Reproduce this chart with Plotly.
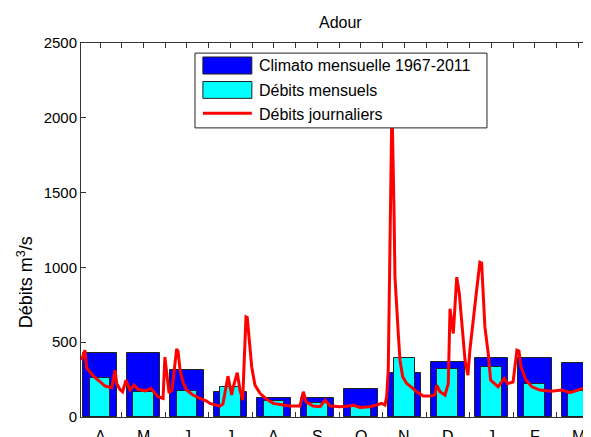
import plotly.graph_objects as go

# ---- data ----
mois = ["A", "M", "J", "J", "A", "S", "O", "N", "D", "J", "F", "M"]
climato_mensuelle = [425, 431, 312, 166, 124, 124, 189, 296, 371, 396, 396, 364]
debits_mensuels = [262, 170, 177, 200, 105, 95, 70, 392, 322, 336, 220, 172]

# daily discharge (day offset from 1 April, m3/s)
jours = [2.3, 4.7, 5.9, 8.2, 9.6, 11.0, 15.2, 18.7, 23.4, 25.7, 26.9, 29.2, 31.0, 33.4,
         36.2, 39.0, 41.8, 46.7, 50.9, 55.7, 59.3, 60.6, 63.5, 65.6, 68.8, 69.8, 71.2,
         73.5, 75.8, 80.2, 85.1, 89.8, 92.1, 99.1, 101.2, 104.7, 107.3, 108.2, 111.2,
         113.1, 115.0, 117.3, 118.2, 119.6, 121.3, 123.6, 127.1, 131.8, 136.4, 143.4,
         148.1, 155.1, 157.4, 159.3, 164.2, 169.1, 172.6, 176.1, 183.1, 190.0, 192.3,
         197.0, 204.0, 208.7, 212.2, 214.5, 215.7, 216.8, 218.0, 219.4, 220.8, 221.5,
         223.8, 225.0, 226.9, 229.7, 233.2, 236.7, 241.3, 246.0, 249.5, 250.7, 253.0,
         256.5, 258.8, 260.0, 262.3, 264.7, 266.5, 270.5, 272.5, 273.9, 278.6, 280.9,
         282.1, 284.4, 286.7, 288.4, 293.6, 297.8, 300.2, 304.1, 306.8, 308.2, 309.6,
         313.1, 317.3, 322.9, 330.6, 338.3, 343.9, 348.8, 354.4, 358.6, 362.0]
debits_journaliers = [380, 447, 327, 302, 287, 269, 236, 207, 196, 313, 224, 184, 169, 247,
                      180, 213, 185, 175, 190, 136, 124, 400, 160, 180, 455, 440, 313,
                      224, 180, 147, 124, 107, 91, 73, 87, 273, 147, 193, 296,
                      180, 113, 669, 665, 491, 336, 213, 158, 118, 91, 80,
                      73, 73, 169, 102, 73, 69, 113, 73, 69, 73, 80,
                      64, 69, 80, 91, 80, 136, 313, 1330, 2100, 1400, 935,
                      560, 380, 269, 224, 198, 169, 140, 140, 147, 213, 169,
                      147, 223, 724, 558, 935, 826, 380, 280, 447, 847, 1035,
                      1030, 602, 427, 247, 202, 258, 224, 233, 447, 441, 336,
                      247, 202, 180, 173, 180, 162, 180, 196, 202, 210]

MONTH = 365.0 / 12
centres = [(i + 0.5) * MONTH for i in range(12)]
limites = [(i + 1) * MONTH for i in range(12)]

FONT = "Liberation Sans, Arial, Helvetica, sans-serif"
AX = "#333333"

fig = go.Figure()
fig.add_trace(go.Bar(x=centres, y=climato_mensuelle, width=0.77 * MONTH,
                     marker=dict(color="#0000FF", line=dict(color="#222222", width=1)),
                     name="Climato mensuelle 1967-2011"))
fig.add_trace(go.Bar(x=centres, y=debits_mensuels, width=0.48 * MONTH,
                     marker=dict(color="#00FFFF", line=dict(color="#222222", width=1)),
                     name="Débits mensuels"))
fig.add_trace(go.Scatter(x=jours, y=debits_journaliers, mode="lines",
                         line=dict(color="#FF0000", width=3), name="Débits journaliers"))

# ---- manual legend (paper coords) ----
shapes = [
    dict(type="rect", xref="paper", yref="paper", x0=0.2235, x1=0.796, y0=0.773, y1=0.973,
         fillcolor="white", line=dict(color="#222222", width=1), layer="above"),
    dict(type="rect", xref="paper", yref="paper", x0=0.239, x1=0.335, y0=0.917, y1=0.9626,
         fillcolor="#0000FF", line=dict(color="#222222", width=1), layer="above"),
    dict(type="rect", xref="paper", yref="paper", x0=0.239, x1=0.335, y0=0.852, y1=0.897,
         fillcolor="#00FFFF", line=dict(color="#222222", width=1), layer="above"),
    dict(type="line", xref="paper", yref="paper", x0=0.239, x1=0.335, y0=0.812, y1=0.812,
         line=dict(color="#FF0000", width=3), layer="above"),
]
noms = ["Climato mensuelle 1967-2011", "Débits mensuels", "Débits journaliers"]
ys = [0.939, 0.874, 0.809]
annotations = [dict(text=t, xref="paper", yref="paper", x=0.345, y=y, xanchor="left",
                    yanchor="middle", showarrow=False, font=dict(size=16, color="black"))
               for t, y in zip(noms, ys)]
annotations.append(dict(text="Débits m<sup>3</sup>/s", xref="paper", yref="paper", x=-0.11,
                        y=0.36, textangle=-90, showarrow=False, xanchor="center",
                        yanchor="middle", font=dict(size=18, color="black")))
annotations.append(dict(text="Adour", xref="paper", yref="paper", x=0.508, y=1.056,
                        showarrow=False, xanchor="center", yanchor="middle",
                        font=dict(size=16, color="black")))
# month labels, placed lower under the axis as in the original (cut by the page edge)
for c, m in zip(centres, mois):
    annotations.append(dict(text=m, xref="x", yref="paper", x=c, y=-0.024,
                            xanchor="center", yanchor="top", showarrow=False,
                            font=dict(size=16, color="black")))

# page body has an 8 px margin: figure is 583x429 so that it ends at the window edge
fig.update_layout(
    width=583, height=429,
    margin=dict(l=73, r=0, t=35, b=20),
    paper_bgcolor="white", plot_bgcolor="white",
    barmode="overlay", bargap=0, showlegend=False,
    font=dict(family=FONT, size=15, color="black"),
    shapes=shapes, annotations=annotations,
    xaxis=dict(range=[1.92, 358.6], tickvals=centres, showticklabels=False,
               ticks="inside", ticklen=5, tickcolor=AX, showline=True, linecolor=AX,
               linewidth=1, mirror="ticks", showgrid=False, zeroline=False,
               layer="below traces",
               minor=dict(tickvals=limites, ticks="inside", ticklen=5, tickcolor=AX,
                          showgrid=False)),
    yaxis=dict(range=[0, 2500], tickvals=[0, 500, 1000, 1500, 2000, 2500],
               ticks="inside", ticklen=5, tickcolor=AX, showline=True, linecolor=AX,
               linewidth=1, mirror=False, showgrid=False, zeroline=False,
               layer="below traces"),
)

fig.write_html("out.html")
